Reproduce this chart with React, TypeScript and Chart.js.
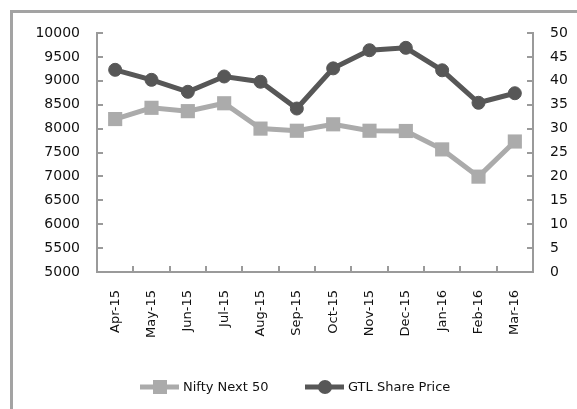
import React, { useEffect, useRef } from "react";
import { Chart, registerables } from "chart.js";

Chart.register(...registerables);

const months = ["Apr-15", "May-15", "Jun-15", "Jul-15", "Aug-15", "Sep-15", "Oct-15", "Nov-15", "Dec-15", "Jan-16", "Feb-16", "Mar-16"];
const niftyNext50 = [8200, 8435, 8365, 8530, 8000, 7955, 8090, 7955, 7950, 7565, 6995, 7730];
const gtlSharePrice = [42.3, 40.2, 37.7, 40.9, 39.8, 34.2, 42.6, 46.4, 46.9, 42.2, 35.4, 37.4];
const leftAxis = { min: 5000, max: 10000, step: 500 };
const rightAxis = { min: 0, max: 50, step: 5 };
const seriesNames = ["Nifty Next 50", "GTL Share Price"];

const LIGHT = "#ababab";
const DARK = "#575757";
const AXIS = "#9a9a9a";
const FONT = "'DejaVu Sans', Verdana, sans-serif";

const innerTicks = {
  id: "innerTicks",
  beforeDatasetsDraw(chart: any) {
    const { ctx, chartArea, scales } = chart;
    const { left, right, bottom } = chartArea;
    ctx.save();
    ctx.strokeStyle = AXIS;
    ctx.lineWidth = 2;
    const y = scales.y;
    y.ticks.forEach((_: any, i: number) => {
      const py = Math.round(y.getPixelForTick(i));
      ctx.beginPath();
      ctx.moveTo(left, py);
      ctx.lineTo(left + 6, py);
      ctx.stroke();
    });
    const y1 = scales.y1;
    y1.ticks.forEach((_: any, i: number) => {
      const py = Math.round(y1.getPixelForTick(i));
      ctx.beginPath();
      ctx.moveTo(right - 6, py);
      ctx.lineTo(right, py);
      ctx.stroke();
    });
    const x = scales.x;
    for (let i = 1; i < x.ticks.length; i++) {
      const px = Math.round((x.getPixelForTick(i - 1) + x.getPixelForTick(i)) / 2);
      ctx.beginPath();
      ctx.moveTo(px, bottom);
      ctx.lineTo(px, bottom - 6);
      ctx.stroke();
    }
    ctx.restore();
  },
};

const customLegend = {
  id: "customLegend",
  afterDraw(chart: any) {
    const { ctx } = chart;
    const yc = 387;
    const items = [
      { x: 140, ds: chart.data.datasets[0] },
      { x: 305, ds: chart.data.datasets[1] },
    ];
    ctx.save();
    items.forEach(({ x, ds }) => {
      ctx.strokeStyle = ds.borderColor;
      ctx.lineWidth = 5;
      ctx.beginPath();
      ctx.moveTo(x, yc);
      ctx.lineTo(x + 39, yc);
      ctx.stroke();
      ctx.fillStyle = ds.pointBackgroundColor;
      if (ds.pointStyle === "rect") {
        ctx.fillRect(x + 13, yc - 7, 14, 14);
      } else {
        ctx.beginPath();
        ctx.arc(x + 20, yc, 7, 0, Math.PI * 2);
        ctx.fill();
      }
      ctx.fillStyle = "#111";
      ctx.font = `13px ${FONT}`;
      ctx.textAlign = "left";
      ctx.textBaseline = "middle";
      ctx.fillText(ds.label, x + 43, yc + 1);
    });
    ctx.restore();
  },
};

const plain = (v: any) => String(v);

export default function App() {
  const ref = useRef<HTMLCanvasElement | null>(null);
  useEffect(() => {
    if (!ref.current) return;
    const chart = new Chart(ref.current, {
      type: "line",
      data: {
        labels: months,
        datasets: [
          {
            label: seriesNames[0],
            data: niftyNext50,
            yAxisID: "y",
            borderColor: LIGHT,
            backgroundColor: LIGHT,
            pointBackgroundColor: LIGHT,
            pointBorderColor: LIGHT,
            pointStyle: "rect",
            pointRadius: 10,
            pointBorderWidth: 0,
            borderWidth: 5,
            tension: 0,
          },
          {
            label: seriesNames[1],
            data: gtlSharePrice,
            yAxisID: "y1",
            borderColor: DARK,
            backgroundColor: DARK,
            pointBackgroundColor: DARK,
            pointBorderColor: DARK,
            pointStyle: "circle",
            pointRadius: 6.5,
            pointBorderWidth: 1,
            borderWidth: 5,
            tension: 0,
          },
        ],
      },
      options: {
        animation: false,
        responsive: false,
        maintainAspectRatio: false,
        layout: { padding: { left: 37, right: 4, top: 33, bottom: 47 } },
        plugins: { legend: { display: false }, tooltip: { enabled: false } },
        scales: {
          x: {
            offset: true,
            grid: { display: false, drawTicks: false },
            border: { display: true, color: AXIS, width: 2 },
            ticks: {
              autoSkip: false,
              minRotation: 90,
              maxRotation: 90,
              padding: 18,
              color: "#111",
              font: { family: FONT, size: 13 },
            },
            afterFit: (s: any) => {
              s.height = 90;
            },
          },
          y: {
            position: "left",
            min: leftAxis.min,
            max: leftAxis.max,
            grid: { display: false, drawTicks: false },
            border: { display: true, color: AXIS, width: 2 },
            ticks: {
              stepSize: leftAxis.step,
              padding: 17,
              color: "#111",
              font: { family: FONT, size: 14 },
              callback: plain,
            },
            afterFit: (s: any) => {
              s.width = 60;
            },
          },
          y1: {
            position: "right",
            min: rightAxis.min,
            max: rightAxis.max,
            grid: { display: false, drawTicks: false },
            border: { display: true, color: AXIS, width: 2 },
            ticks: {
              stepSize: rightAxis.step,
              padding: 17,
              color: "#111",
              font: { family: FONT, size: 14 },
              callback: plain,
            },
            afterFit: (s: any) => {
              s.width = 40;
            },
          },
        },
      },
      plugins: [innerTicks, customLegend],
    });
    return () => chart.destroy();
  }, []);

  return (
    <div style={{ position: "fixed", left: 0, top: 0, width: 577, height: 409, overflow: "hidden", background: "#fff" }}>
      <div
        style={{
          position: "absolute",
          left: 10,
          top: 10,
          width: 620,
          height: 460,
          borderLeft: "3px solid #a3a3a3",
          borderTop: "3px solid #a3a3a3",
          boxSizing: "border-box",
        }}
      />
      <canvas ref={ref} width={577} height={409} style={{ position: "absolute", left: 0, top: 0, width: 577, height: 409 }} />
    </div>
  );
}
